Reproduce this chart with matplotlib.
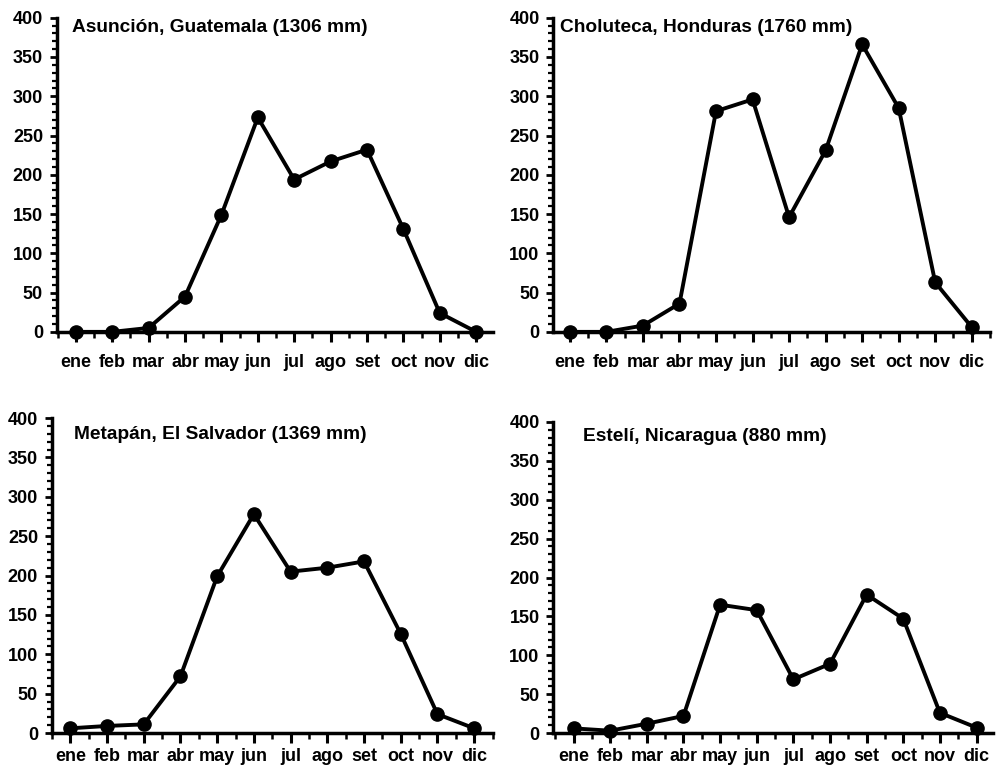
#!/usr/bin/env python3
"""Monthly rainfall at four Central American stations (2x2 panels)."""
import matplotlib
matplotlib.use("Agg")
import matplotlib.pyplot as plt
from matplotlib.ticker import MultipleLocator

plt.rcParams["font.family"] = ["Liberation Sans", "DejaVu Sans"]
plt.rcParams["font.weight"] = "bold"

months = ["ene", "feb", "mar", "abr", "may", "jun",
          "jul", "ago", "set", "oct", "nov", "dic"]

# monthly rainfall (mm)
asuncion = [0, 0, 5, 45, 149, 273, 194, 217, 232, 131, 24, 0]
choluteca = [0, 0, 8, 36, 281, 296, 146, 231, 366, 285, 63, 6]
metapan = [6, 9, 11, 72, 199, 278, 205, 210, 218, 126, 24, 6]
esteli = [6, 3, 12, 22, 165, 158, 69, 89, 178, 147, 26, 7]

titles = ["Asunción, Guatemala (1306 mm)",
          "Choluteca, Honduras (1760 mm)",
          "Metapán, El Salvador (1369 mm)",
          "Estelí, Nicaragua (880 mm)"]

# panel boxes in figure fractions: left, bottom, width, height
boxes = [(0.057, 0.569, 0.436, 0.408),
         (0.554, 0.569, 0.437, 0.408),
         (0.052, 0.048, 0.441, 0.409),
         (0.554, 0.048, 0.440, 0.404)]
title_pos = [(0.034, 0.968), (0.016, 0.968), (0.050, 0.949), (0.068, 0.952)]
xlims = [(-0.52, 11.45), (-0.45, 11.5), (-0.5, 11.5), (-0.55, 11.45)]
xpads = [9, 9, 4, 4]

fig = plt.figure(figsize=(9.99, 7.70), dpi=100)

for data, title, box, tpos, xl, xp in zip([asuncion, choluteca, metapan, esteli],
                                          titles, boxes, title_pos, xlims, xpads):
    ax = fig.add_axes(box)
    x = list(range(len(months)))
    ax.plot(x, data, color="black", lw=2.8, marker="o", ms=9.5,
            clip_on=False, zorder=3)
    ax.set_xlim(*xl)
    ax.set_ylim(0, 400)
    for s in ["top", "right"]:
        ax.spines[s].set_visible(False)
    for s in ["left", "bottom"]:
        ax.spines[s].set_linewidth(2.5)
    ax.set_xticks(x)
    ax.set_xticklabels(months)
    ax.xaxis.set_minor_locator(MultipleLocator(0.5))
    ax.yaxis.set_major_locator(MultipleLocator(50))
    ax.yaxis.set_minor_locator(MultipleLocator(10))
    ax.tick_params(axis="x", which="major", direction="out", length=7,
                   width=2.2, pad=xp, labelsize=13)
    ax.tick_params(axis="x", which="minor", direction="out", length=4, width=1.8)
    ax.tick_params(axis="y", which="major", direction="out", length=5,
                   width=2, pad=5, labelsize=13)
    ax.tick_params(axis="y", which="minor", direction="out", length=3.5, width=1.6)
    ax.text(tpos[0], tpos[1], title, transform=ax.transAxes, fontsize=13.8,
            fontweight="bold", va="center", ha="left")

fig.savefig("out.png", dpi=100)
